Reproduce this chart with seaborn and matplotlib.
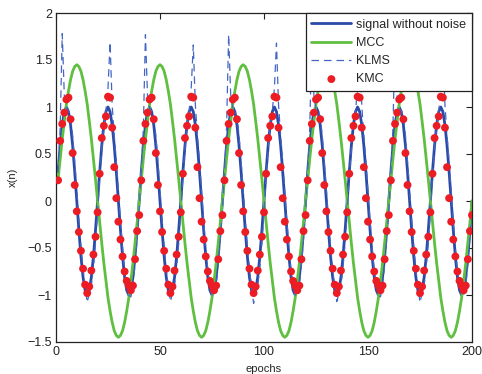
import numpy as np
import pandas as pd
import matplotlib
matplotlib.use('Agg')
import matplotlib.pyplot as plt
import seaborn as sns

# epochs 1..200
epochs = np.arange(1, 201)

# signal without noise
signal = [
    0.31, 0.59, 0.81, 0.95, 1.00, 0.95, 0.81, 0.59, 0.31, 0.00, -0.31, -0.59, -0.81, -0.95, -1.00, -0.95, -0.81, -0.59, -0.31, 0.00,
    0.31, 0.59, 0.81, 0.95, 1.00, 0.95, 0.81, 0.59, 0.31, 0.00, -0.31, -0.59, -0.81, -0.95, -1.00, -0.95, -0.81, -0.59, -0.31, 0.00,
    0.31, 0.59, 0.81, 0.95, 1.00, 0.95, 0.81, 0.59, 0.31, 0.00, -0.31, -0.59, -0.81, -0.95, -1.00, -0.95, -0.81, -0.59, -0.31, 0.00,
    0.31, 0.59, 0.81, 0.95, 1.00, 0.95, 0.81, 0.59, 0.31, 0.00, -0.31, -0.59, -0.81, -0.95, -1.00, -0.95, -0.81, -0.59, -0.31, 0.00,
    0.31, 0.59, 0.81, 0.95, 1.00, 0.95, 0.81, 0.59, 0.31, 0.00, -0.31, -0.59, -0.81, -0.95, -1.00, -0.95, -0.81, -0.59, -0.31, 0.00,
    0.31, 0.59, 0.81, 0.95, 1.00, 0.95, 0.81, 0.59, 0.31, 0.00, -0.31, -0.59, -0.81, -0.95, -1.00, -0.95, -0.81, -0.59, -0.31, 0.00,
    0.31, 0.59, 0.81, 0.95, 1.00, 0.95, 0.81, 0.59, 0.31, 0.00, -0.31, -0.59, -0.81, -0.95, -1.00, -0.95, -0.81, -0.59, -0.31, 0.00,
    0.31, 0.59, 0.81, 0.95, 1.00, 0.95, 0.81, 0.59, 0.31, 0.00, -0.31, -0.59, -0.81, -0.95, -1.00, -0.95, -0.81, -0.59, -0.31, 0.00,
    0.31, 0.59, 0.81, 0.95, 1.00, 0.95, 0.81, 0.59, 0.31, 0.00, -0.31, -0.59, -0.81, -0.95, -1.00, -0.95, -0.81, -0.59, -0.31, 0.00,
    0.31, 0.59, 0.81, 0.95, 1.00, 0.95, 0.81, 0.59, 0.31, 0.00, -0.31, -0.59, -0.81, -0.95, -1.00, -0.95, -0.81, -0.59, -0.31, 0.00,
]

mcc = [
    0.23, 0.45, 0.66, 0.85, 1.03, 1.17, 1.29, 1.38, 1.43, 1.45, 1.43, 1.38, 1.29, 1.17, 1.03, 0.85, 0.66, 0.45, 0.23, 0.00,
    -0.23, -0.45, -0.66, -0.85, -1.03, -1.17, -1.29, -1.38, -1.43, -1.45, -1.43, -1.38, -1.29, -1.17, -1.03, -0.85, -0.66, -0.45, -0.23, 0.00,
    0.23, 0.45, 0.66, 0.85, 1.03, 1.17, 1.29, 1.38, 1.43, 1.45, 1.43, 1.38, 1.29, 1.17, 1.03, 0.85, 0.66, 0.45, 0.23, 0.00,
    -0.23, -0.45, -0.66, -0.85, -1.03, -1.17, -1.29, -1.38, -1.43, -1.45, -1.43, -1.38, -1.29, -1.17, -1.03, -0.85, -0.66, -0.45, -0.23, 0.00,
    0.23, 0.45, 0.66, 0.85, 1.03, 1.17, 1.29, 1.38, 1.43, 1.45, 1.43, 1.38, 1.29, 1.17, 1.03, 0.85, 0.66, 0.45, 0.23, 0.00,
    -0.23, -0.45, -0.66, -0.85, -1.03, -1.17, -1.29, -1.38, -1.43, -1.45, -1.43, -1.38, -1.29, -1.17, -1.03, -0.85, -0.66, -0.45, -0.23, 0.00,
    0.23, 0.45, 0.66, 0.85, 1.03, 1.17, 1.29, 1.38, 1.43, 1.45, 1.43, 1.38, 1.29, 1.17, 1.03, 0.85, 0.66, 0.45, 0.23, 0.00,
    -0.23, -0.45, -0.66, -0.85, -1.03, -1.17, -1.29, -1.38, -1.43, -1.45, -1.43, -1.38, -1.29, -1.17, -1.03, -0.85, -0.66, -0.45, -0.23, 0.00,
    0.23, 0.45, 0.66, 0.85, 1.03, 1.17, 1.29, 1.38, 1.43, 1.45, 1.43, 1.38, 1.29, 1.17, 1.03, 0.85, 0.66, 0.45, 0.23, 0.00,
    -0.23, -0.45, -0.66, -0.85, -1.03, -1.17, -1.29, -1.38, -1.43, -1.45, -1.43, -1.38, -1.29, -1.17, -1.03, -0.85, -0.66, -0.45, -0.23, 0.00,
]

klms = [
    0.30, 0.78, 1.78, 1.12, 0.98, 0.96, 0.90, 0.70, 0.42, 0.12, -0.20, -0.48, -0.72, -0.92, -1.08, -0.98, -0.90, -0.70, -0.45, -0.12,
    0.26, 0.56, 0.80, 0.96, 1.20, 1.69, 1.02, 0.70, 0.42, 0.10, -0.22, -0.50, -0.74, -0.90, -1.00, -1.02, -0.90, -0.68, -0.40, -0.08,
    0.30, 0.78, 1.77, 1.12, 0.98, 0.96, 0.90, 0.70, 0.42, 0.12, -0.20, -0.48, -0.72, -0.92, -1.07, -0.98, -0.90, -0.70, -0.45, -0.12,
    0.26, 0.56, 0.80, 0.96, 1.20, 1.66, 1.02, 0.70, 0.42, 0.10, -0.22, -0.50, -0.74, -0.90, -1.00, -1.01, -0.90, -0.68, -0.40, -0.08,
    0.30, 0.78, 1.77, 1.12, 0.98, 0.96, 0.90, 0.70, 0.42, 0.12, -0.20, -0.48, -0.72, -0.92, -1.09, -0.98, -0.90, -0.70, -0.45, -0.12,
    0.26, 0.56, 0.80, 0.96, 1.20, 1.68, 1.02, 0.70, 0.42, 0.10, -0.22, -0.50, -0.74, -0.90, -1.00, -1.02, -0.90, -0.68, -0.40, -0.08,
    0.30, 0.78, 1.76, 1.12, 0.98, 0.96, 0.90, 0.70, 0.42, 0.12, -0.20, -0.48, -0.72, -0.92, -1.07, -0.98, -0.90, -0.70, -0.45, -0.12,
    0.26, 0.56, 0.80, 0.96, 1.20, 1.66, 1.02, 0.70, 0.42, 0.10, -0.22, -0.50, -0.74, -0.90, -1.00, -1.02, -0.90, -0.68, -0.40, -0.08,
    0.30, 0.78, 1.77, 1.12, 0.98, 0.96, 0.90, 0.70, 0.42, 0.12, -0.20, -0.48, -0.72, -0.92, -1.08, -0.98, -0.90, -0.70, -0.45, -0.12,
    0.26, 0.56, 0.80, 0.96, 1.20, 1.67, 1.02, 0.70, 0.42, 0.10, -0.22, -0.50, -0.74, -0.90, -1.00, -1.01, -0.90, -0.68, -0.40, -0.08,
]

kmc = [
    0.22, 0.64, 0.82, 0.94, 1.08, 1.10, 0.87, 0.51, 0.17, -0.11, -0.33, -0.53, -0.72, -0.89, -0.98, -0.91, -0.74, -0.57, -0.38, -0.12,
    0.29, 0.67, 0.80, 0.90, 1.11, 1.10, 0.78, 0.36, 0.03, -0.22, -0.41, -0.59, -0.75, -0.85, -0.90, -0.95, -0.90, -0.62, -0.32, -0.15,
    0.22, 0.64, 0.82, 0.94, 1.08, 1.10, 0.87, 0.51, 0.17, -0.11, -0.33, -0.53, -0.72, -0.89, -0.98, -0.91, -0.74, -0.57, -0.38, -0.12,
    0.29, 0.67, 0.80, 0.90, 1.11, 1.10, 0.78, 0.36, 0.03, -0.22, -0.41, -0.59, -0.75, -0.85, -0.90, -0.95, -0.90, -0.62, -0.32, -0.15,
    0.22, 0.64, 0.82, 0.94, 1.08, 1.10, 0.87, 0.51, 0.17, -0.11, -0.33, -0.53, -0.72, -0.89, -0.98, -0.91, -0.74, -0.57, -0.38, -0.12,
    0.29, 0.67, 0.80, 0.90, 1.11, 1.10, 0.78, 0.36, 0.03, -0.22, -0.41, -0.59, -0.75, -0.85, -0.90, -0.95, -0.90, -0.62, -0.32, -0.15,
    0.22, 0.64, 0.82, 0.94, 1.08, 1.10, 0.87, 0.51, 0.17, -0.11, -0.33, -0.53, -0.72, -0.89, -0.98, -0.91, -0.74, -0.57, -0.38, -0.12,
    0.29, 0.67, 0.80, 0.90, 1.11, 1.10, 0.78, 0.36, 0.03, -0.22, -0.41, -0.59, -0.75, -0.85, -0.90, -0.95, -0.90, -0.62, -0.32, -0.15,
    0.22, 0.64, 0.82, 0.94, 1.08, 1.10, 0.87, 0.51, 0.17, -0.11, -0.33, -0.53, -0.72, -0.89, -0.98, -0.91, -0.74, -0.57, -0.38, -0.12,
    0.29, 0.67, 0.80, 0.90, 1.11, 1.10, 0.78, 0.36, 0.03, -0.22, -0.41, -0.59, -0.75, -0.85, -0.90, -0.95, -0.90, -0.62, -0.32, -0.15,
]

xticks = [0, 50, 100, 150, 200]
yticks = [-1.5, -1, -0.5, 0, 0.5, 1, 1.5, 2]

df = pd.DataFrame({'epoch': epochs, 'signal': signal, 'MCC': mcc, 'KLMS': klms, 'KMC': kmc})

sns.set_style('white')
plt.rcParams['font.family'] = ['Liberation Sans', 'DejaVu Sans']

fig = plt.figure(figsize=(4.82, 3.74), dpi=100)
ax = fig.add_axes([56 / 482, 1 - 342 / 374, 416 / 482, 329 / 374])

sns.lineplot(data=df, x='epoch', y='signal', ax=ax, estimator=None, color='#2a4aa8', lw=2.0,
             label='signal without noise')
sns.lineplot(data=df, x='epoch', y='MCC', ax=ax, estimator=None, color='#5fbf3f', lw=2.0, label='MCC')
sns.lineplot(data=df, x='epoch', y='KLMS', ax=ax, estimator=None, color='#4566c4', lw=0.9,
             linestyle=(0, (6, 4)), label='KLMS')
sns.scatterplot(data=df, x='epoch', y='KMC', ax=ax, color='#ec1c24', s=32, edgecolor='none',
                zorder=5, label='KMC')

ax.set_xlim(0, 200)
ax.set_ylim(-1.5, 2)
ax.set_xticks(xticks)
ax.set_yticks(yticks)
ax.set_yticklabels(['\u22121.5', '\u22121', '\u22120.5', '0', '0.5', '1', '1.5', '2'])
ax.tick_params(direction='in', top=True, right=True, length=4, width=0.8, labelsize=9, colors='#222222',
               pad=3)
for sp in ax.spines.values():
    sp.set_color('#222222')
    sp.set_linewidth(0.9)

ax.set_xlabel('epochs', fontsize=8, labelpad=4)
ax.set_ylabel('x(n)', fontsize=8, labelpad=7)

leg = ax.legend(loc='upper right', fontsize=9, frameon=True, fancybox=False, edgecolor='#222222',
                framealpha=1, borderaxespad=0, handlelength=3.2, handletextpad=0.4, labelspacing=0.5,
                borderpad=0.45)
leg.get_frame().set_linewidth(0.9)

fig.savefig('out.png', dpi=100)
